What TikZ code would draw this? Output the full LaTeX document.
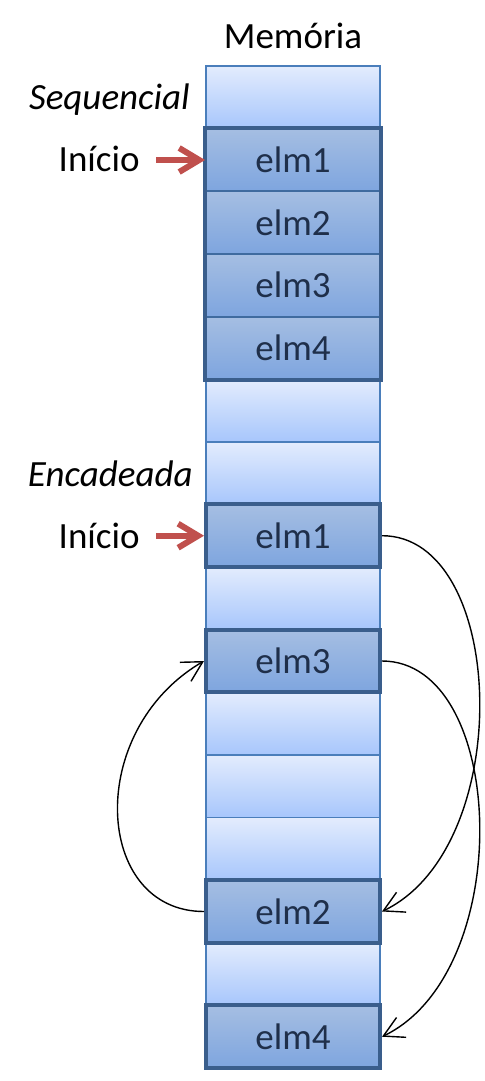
\documentclass[tikz,border=0pt]{standalone}
\usepackage{fontspec}
\setmainfont{Carlito}
\usetikzlibrary{arrows.meta}

\definecolor{celtop}{HTML}{E3ECFD}
\definecolor{celbot}{HTML}{A7C6FC}
\definecolor{elmtop}{HTML}{A5BEE2}
\definecolor{elmbot}{HTML}{7EA5DF}
\definecolor{celline}{HTML}{4A7EBB}
\definecolor{elmline}{HTML}{3A5E8C}
\definecolor{elmtext}{HTML}{1F2F4A}
\definecolor{setared}{HTML}{C0504D}

\tikzset{
    cel/.style={rectangle, draw=celline, line width=0.75pt, top color=celtop, bottom color=celbot,
        minimum width=87pt, minimum height=31.3pt, inner sep=0pt},
    elm/.style={cel, top color=elmtop, bottom color=elmbot, draw=elmline, line width=2pt, text=elmtext},
    seqelm/.style={elm, draw=celline!85!black, line width=1pt},
    rotulo/.style={inner sep=0pt},
    ligacao/.style={line width=0.7pt, -{Straight Barb[length=10pt,width=11pt]}},
    setainicio/.style={draw=setared, line width=3pt, -{Straight Barb[length=10pt,width=12pt]}}
}

\begin{document}
\begin{tikzpicture}[x=0.5pt, y=-0.5pt, every node/.style={font=\fontsize{18.5}{22}\selectfont}]
    \useasboundingbox (0,0) rectangle (484,1081);

    \node (memoria) at (293,36) {Memória};

    % celulas vazias
    \node[cel] (c0)  at (293,97.3)   {};
    \node[cel] (c5)  at (293,410.5)  {};
    \node[cel] (c6)  at (293,473.1)  {};
    \node[cel] (c8)  at (293,598.3)  {};
    \node[cel] (c10) at (293,723.6)  {};
    \node[cel] (c11) at (293,786.2)  {};
    \node[cel] (c12) at (293,848.8)  {};
    \node[cel] (c14) at (293,974.1)  {};

    % lista sequencial
    \node[seqelm] (seq1) at (293,160)   {elm1};
    \node[seqelm] (seq2) at (293,222.6) {elm2};
    \node[seqelm] (seq3) at (293,285.2) {elm3};
    \node[seqelm] (seq4) at (293,347.8) {elm4};
    \draw[draw=elmline, line width=2pt] (seq1.north west) rectangle (seq4.south east);

    % lista encadeada
    \node[elm] (enc1) at (293,535.7)  {elm1};
    \node[elm] (enc3) at (293,661)    {elm3};
    \node[elm] (enc2) at (293,911.5)  {elm2};
    \node[elm] (enc4) at (293,1036.7) {elm4};

    \node[rotulo, anchor=east] (seq) at (190,100) {\itshape Sequencial};
    \node[rotulo, anchor=east] (ini1) at (140,159) {Início};
    \node[rotulo, anchor=east] (enc) at (193,474) {\itshape Encadeada};
    \node[rotulo, anchor=east] (ini2) at (140,536) {Início};

    \draw[setainicio, shorten <=8pt] (ini1.east |- seq1.west) -- (seq1.west);
    \draw[setainicio, shorten <=8pt] (ini2.east |- enc1.west) -- (enc1.west);

    \draw[ligacao] (enc1.east) .. controls +(125,0) and +(135,-65) .. (enc2.east);
    \draw[ligacao] (enc3.east) .. controls +(125,0) and +(135,-65) .. (enc4.east);
    \draw[ligacao] (enc2.west) .. controls +(-110,0) and +(-120,70) .. (enc3.west);
\end{tikzpicture}
\end{document}
